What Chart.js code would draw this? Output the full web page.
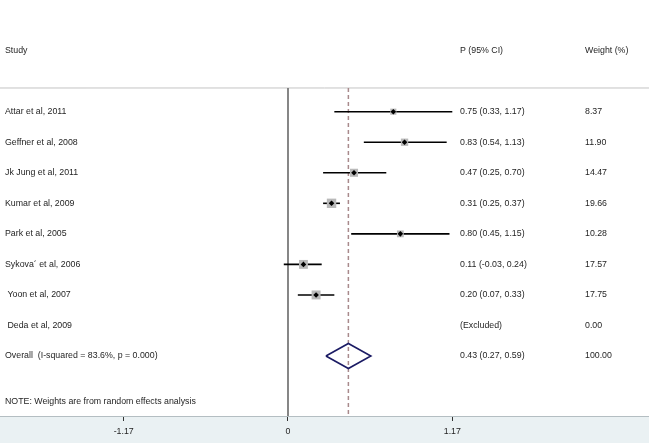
<!DOCTYPE html>
<html>
<head>
<meta charset="utf-8">
<script src="https://cdn.jsdelivr.net/npm/chart.js@4.4.1/dist/chart.umd.min.js"></script>
<style>
  html, body { margin: 0; padding: 0; background: #ffffff; overflow: hidden; }
  #wrap { width: 649px; height: 443px; position: relative; }
</style>
</head>
<body>
<div id="wrap"><canvas id="c"></canvas></div>
<script>
// ---- data ----
const studies = ["Attar et al, 2011", "Geffner et al, 2008", "Jk Jung et al, 2011", "Kumar et al, 2009",
  "Park et al, 2005", "Sykova\u00b4 et al, 2006", " Yoon et al, 2007", " Deda et al, 2009"];
const estimates = [0.75, 0.83, 0.47, 0.31, 0.80, 0.11, 0.20, null];
const lowerCI = [0.33, 0.54, 0.25, 0.25, 0.45, -0.03, 0.07, null];
const upperCI = [1.17, 1.13, 0.70, 0.37, 1.15, 0.24, 0.33, null];
const weights = [8.37, 11.90, 14.47, 19.66, 10.28, 17.57, 17.75, 0.00];
const ciText = ["0.75 (0.33, 1.17)", "0.83 (0.54, 1.13)", "0.47 (0.25, 0.70)", "0.31 (0.25, 0.37)",
  "0.80 (0.45, 1.15)", "0.11 (-0.03, 0.24)", "0.20 (0.07, 0.33)", "(Excluded)"];
const weightText = ["8.37", "11.90", "14.47", "19.66", "10.28", "17.57", "17.75", "0.00"];
const overallLabel = "Overall  (I-squared = 83.6%, p = 0.000)";
const overallEst = 0.43, overallLo = 0.27, overallHi = 0.59;
const overallCIText = "0.43 (0.27, 0.59)";
const overallWeightText = "100.00";
const headers = ["Study", "P (95% CI)", "Weight (%)"];
const noteText = "NOTE: Weights are from random effects analysis";
const tickValues = [-1.17, 0, 1.17];
const tickLabels = ["-1.17", "0", "1.17"];

// ---- layout constants (scale ranges / positions) ----
const X_MIN = -2.0508, X_MAX = 2.5707;
const Y_TOP = -3.657, Y_BOT = 9.964;
const ROW_HEADER = -2, ROW_SEP = -0.776, ROW_OVERALL = 8, ROW_NOTE = 9.5;
const FONT = "'Liberation Sans', Arial, Helvetica, sans-serif";
const TXT = '#1e1e1e';
const FSIZE = 8.8;

Chart.defaults.font.family = FONT;
Chart.defaults.font.size = FSIZE;
Chart.defaults.color = TXT;

const rows = studies.map((_, i) => i);
const valid = rows.filter(i => estimates[i] !== null);
const ciDatasets = valid.map(i => ({
  type: 'line',
  data: [{x: lowerCI[i], y: i}, {x: upperCI[i], y: i}],
  borderColor: '#000000', borderWidth: 1.6, pointRadius: 0, fill: false, order: 3
}));

const datasets = [
  { // point estimates
    type: 'scatter',
    data: valid.map(i => ({x: estimates[i], y: i})),
    pointStyle: 'rectRot', pointRadius: 2.8, backgroundColor: '#000000', borderWidth: 0, order: 0
  },
  { // weight boxes
    type: 'scatter',
    data: valid.map(i => ({x: estimates[i], y: i, w: weights[i]})),
    pointStyle: 'rect',
    pointRadius: ctx => ctx.raw ? Math.sqrt(ctx.raw.w) * 1.5 : 0,
    backgroundColor: '#b9b9b9', borderWidth: 0, order: 1
  },
  ...ciDatasets,
  { // overall diamond
    type: 'line',
    data: [{x: overallLo, y: ROW_OVERALL}, {x: overallEst, y: ROW_OVERALL - 0.41},
           {x: overallHi, y: ROW_OVERALL}, {x: overallEst, y: ROW_OVERALL + 0.41},
           {x: overallLo, y: ROW_OVERALL}],
    borderColor: '#1b1b64', borderWidth: 1.6, pointRadius: 0, fill: false, tension: 0, order: 4
  },
  { // overall dashed line
    type: 'line',
    data: [{x: overallEst, y: ROW_SEP}, {x: overallEst, y: Y_BOT}],
    borderColor: '#a88a8c', borderWidth: 1.5, borderDash: [4, 3], pointRadius: 0, fill: false, order: 5
  },
  { // null line
    type: 'line',
    data: [{x: 0, y: ROW_SEP}, {x: 0, y: Y_BOT}],
    borderColor: '#7a7a7a', borderWidth: 1.8, pointRadius: 0, fill: false, order: 6
  },
  { // header separator
    type: 'line',
    data: [{x: X_MIN, y: ROW_SEP}, {x: X_MAX, y: ROW_SEP}],
    borderColor: '#c4c4c4', borderWidth: 1, pointRadius: 0, fill: false, order: 7
  }
];

const textPlugin = {
  id: 'forestText',
  beforeDraw(chart) {
    const {ctx, chartArea, width, height} = chart;
    ctx.save();
    ctx.fillStyle = '#ffffff';
    ctx.fillRect(0, 0, width, height);
    ctx.fillStyle = '#eaf1f3';
    ctx.fillRect(0, chartArea.bottom, width, height - chartArea.bottom);
    ctx.restore();
  },
  afterDraw(chart) {
    const {ctx} = chart;
    const ys = chart.scales.y;
    const COL_STUDY = 5, COL_CI = 460, COL_W = 585;
    ctx.save();
    ctx.font = FSIZE + 'px ' + FONT;
    ctx.fillStyle = TXT;
    ctx.textBaseline = 'middle';
    ctx.textAlign = 'left';
    const yh = ys.getPixelForValue(ROW_HEADER);
    ctx.fillText(headers[0], COL_STUDY, yh);
    ctx.fillText(headers[1], COL_CI, yh);
    ctx.fillText(headers[2], COL_W, yh);
    studies.forEach((s, i) => {
      const y = ys.getPixelForValue(i);
      ctx.fillText(s, COL_STUDY, y);
      ctx.fillText(ciText[i], COL_CI, y);
      ctx.fillText(weightText[i], COL_W, y);
    });
    const yo = ys.getPixelForValue(ROW_OVERALL);
    ctx.fillText(overallLabel, COL_STUDY, yo);
    ctx.fillText(overallCIText, COL_CI, yo);
    ctx.fillText(overallWeightText, COL_W, yo);
    ctx.fillText(noteText, COL_STUDY, ys.getPixelForValue(ROW_NOTE));
    ctx.restore();
  }
};

new Chart(document.getElementById('c'), {
  type: 'scatter',
  data: { datasets },
  options: {
    responsive: true,
    maintainAspectRatio: false,
    animation: false,
    layout: { padding: 0, autoPadding: false },
    plugins: { legend: { display: false }, tooltip: { enabled: false } },
    scales: {
      x: {
        type: 'linear', min: X_MIN, max: X_MAX,
        afterBuildTicks: s => { s.ticks = tickValues.map(v => ({value: v})); },
        afterFit: s => { s.height = 27; s.paddingLeft = 0; s.paddingRight = 0; },
        ticks: {
          autoSkip: false, maxRotation: 0, padding: 5, color: TXT,
          font: { size: FSIZE },
          callback: (v, i) => tickLabels[i]
        },
        grid: { display: true, drawOnChartArea: false, drawTicks: true, tickLength: 5, color: '#333333', lineWidth: 1 },
        border: { display: true, color: '#b4bec2', width: 1 }
      },
      y: {
        type: 'linear', reverse: true, min: Y_TOP, max: Y_BOT, display: false
      }
    }
  },
  plugins: [textPlugin]
});
</script>
</body>
</html>
